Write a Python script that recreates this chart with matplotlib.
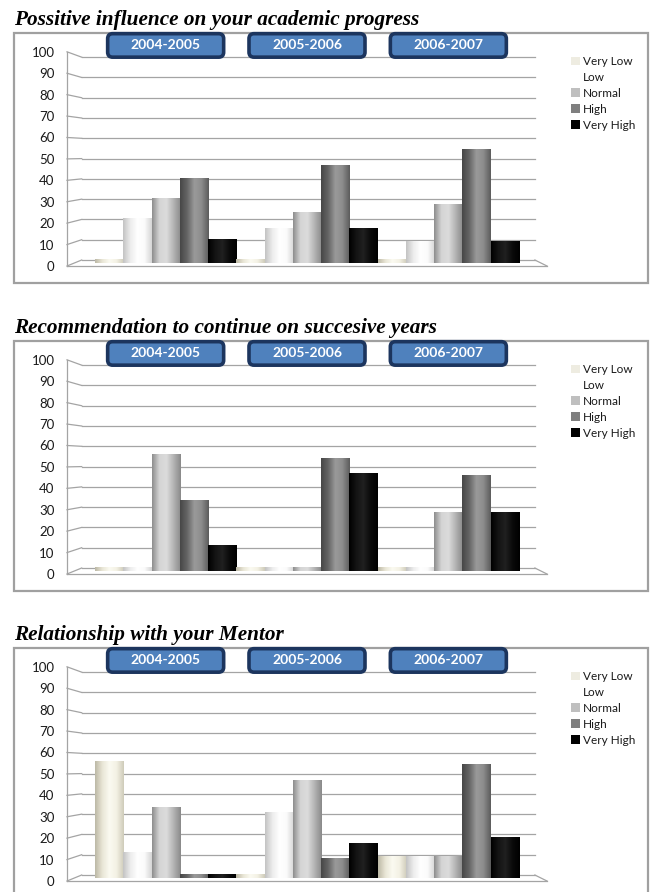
import numpy as np
import matplotlib
matplotlib.use("Agg")
import matplotlib.pyplot as plt
from matplotlib.patches import Rectangle, FancyBboxPatch, Patch
from matplotlib.colors import LinearSegmentedColormap
from matplotlib.transforms import IdentityTransform

# ---- data -------------------------------------------------------------
levels = ["Very Low", "Low", "Normal", "High", "Very High"]
years = ["2004-2005", "2005-2006", "2006-2007"]
titles = [
    "Possitive influence on your academic progress",
    "Recommendation to continue on succesive years",
    "Relationship with your Mentor",
]

# percentage of answers per level (Very Low .. Very High) for each year
influence_2004 = [0.0, 20.0, 30.0, 40.0, 10.0]
influence_2005 = [0.0, 15.4, 23.1, 46.2, 15.4]
influence_2006 = [0.0, 9.1, 27.3, 54.5, 9.1]

recommend_2004 = [0.0, 0.0, 55.6, 33.3, 11.1]
recommend_2005 = [0.0, 0.0, 0.0, 53.8, 46.2]
recommend_2006 = [0.0, 0.0, 27.3, 45.5, 27.3]

mentor_2004 = [55.6, 11.1, 33.3, 0.0, 0.0]
mentor_2005 = [0.0, 30.8, 46.2, 7.7, 15.4]
mentor_2006 = [9.1, 9.1, 9.1, 54.5, 18.2]

charts = [
    [influence_2004, influence_2005, influence_2006],
    [recommend_2004, recommend_2005, recommend_2006],
    [mentor_2004, mentor_2005, mentor_2006],
]
yticks = list(range(0, 101, 10))

# ---- styling ----------------------------------------------------------
W, H = 652, 892
SANS = ["Lato", "DejaVu Sans"]
legend_colors = ["#eeece1", "#ffffff", "#bfbfbf", "#7f7f7f", "#000000"]
# cylinder-like shading across each bar, left to right
shading = {
    "Very Low": ["#bdb9a6", "#e9e6d6", "#fbfaf1", "#f3f1e4", "#cfccba"],
    "Low": ["#c4c4c4", "#ececec", "#ffffff", "#fbfbfb", "#d6d6d6"],
    "Normal": ["#8e8e8e", "#d4d4d4", "#dcdcdc", "#b4b4b4", "#8a8a8a"],
    "High": ["#474747", "#666666", "#9a9a9a", "#8c8c8c", "#5c5c5c"],
    "Very High": ["#000000", "#141414", "#202020", "#0a0a0a", "#000000"],
}
grad = {}
for name, stops in shading.items():
    cmap = LinearSegmentedColormap.from_list(name, stops)
    grad[name] = cmap(np.linspace(0, 1, 64))[None, :, :3]

GRID = "#a4a4a4"
FLOOR = -1.7          # bars rest on the front edge of the 3-D floor
XLIM = (-1.49, 15.49)
YLIM = (-3.5, 106.0)
X_BACK = -0.97        # back wall position
X_RIGHT = 15.06       # end of the back gridlines


def front(v):
    """Value scale on the front (labelled) edge of the wall."""
    return -2.96 + 1.056 * v


fig = plt.figure(figsize=(W / 100, H / 100), dpi=100)
fig.patch.set_facecolor("white")

offsets = [0, 308, 615]
for values, title, off in zip(charts, titles, offsets):
    # frame of the chart area
    fig.add_artist(Rectangle((14, H - (283 + off)), 634, 250,
                             transform=IdentityTransform(), fill=False,
                             ec="#a0a0a0", lw=1.6))
    fig.text(14, H - (25 + off), title, transform=IdentityTransform(),
             family="Liberation Serif", weight="bold", style="italic",
             fontsize=15.3, va="baseline", ha="left", color="black")

    top_px, bot_px = 45 + off, 267.1 + off
    ax = fig.add_axes([67 / W, 1 - bot_px / H, 480 / W, (bot_px - top_px) / H])
    ax.set_facecolor("none")
    for s in ax.spines.values():
        s.set_visible(False)

    # wall, gridlines and floor
    for v in yticks:
        ax.plot([XLIM[0], X_BACK], [front(v), v], color=GRID, lw=0.9,
                clip_on=False, zorder=1)
        ax.plot([X_BACK, X_RIGHT], [v, v], color=GRID, lw=0.9, zorder=1)
    ax.plot([XLIM[0], XLIM[0]], [front(0), front(100)], color=GRID, lw=0.9,
            clip_on=False, zorder=1)
    ax.plot([XLIM[0], XLIM[1]], [front(0), front(0)], color=GRID, lw=0.9,
            clip_on=False, zorder=1)
    ax.plot([X_RIGHT, XLIM[1]], [0, front(0)], color=GRID, lw=0.9,
            clip_on=False, zorder=1)

    # bars: one group of five levels per year
    for g, year_vals in enumerate(values):
        xs = [5 * g + k for k in range(len(levels))]
        heights = [v - FLOOR for v in year_vals]
        bars = ax.bar(xs, heights, width=1.0, bottom=FLOOR,
                      color=legend_colors, lw=0, zorder=2)
        for patch, lvl in zip(bars.patches, levels):
            x0, y0 = patch.get_xy()
            ax.imshow(grad[lvl], extent=(x0, x0 + patch.get_width(),
                                         y0, y0 + patch.get_height()),
                      aspect="auto", interpolation="bilinear", zorder=3)

    ax.set_xlim(*XLIM)
    ax.set_ylim(*YLIM)
    ax.set_xticks([])
    ax.set_yticks([front(v) for v in yticks], labels=[str(v) for v in yticks])
    ax.tick_params(axis="y", length=0, pad=9, labelsize=9.5,
                   labelcolor="#1a1a1a")
    for lab in ax.get_yticklabels():
        lab.set_family(SANS)

    # year badges above each group
    for g in range(len(years)):
        xc, yb = ax.transData.transform((5 * g + 2, 100))
        fig.add_artist(FancyBboxPatch((xc - 58, yb), 116, 23.5,
                                      boxstyle="round,pad=0,rounding_size=5",
                                      transform=IdentityTransform(),
                                      fc="#4f81bd", ec="#1c355e", lw=2.6,
                                      zorder=5))
        fig.text(xc, yb + 12, years[g], transform=IdentityTransform(),
                 family=SANS, weight="bold", fontsize=10, color="white",
                 ha="center", va="center", zorder=6)

    handles = [Patch(fc=c, ec="none") for c in legend_colors]
    leg = ax.legend(handles, levels, loc="upper left",
                    bbox_to_anchor=(571, H - (56 + off)),
                    bbox_transform=IdentityTransform(), frameon=False,
                    prop={"family": SANS, "size": 8.5},
                    handlelength=0.75, handleheight=0.75, handletextpad=0.25,
                    labelspacing=0.42, borderpad=0, borderaxespad=0)
    for t in leg.get_texts():
        t.set_color("#1a1a1a")

fig.savefig("out.png", dpi=100, facecolor="white")
